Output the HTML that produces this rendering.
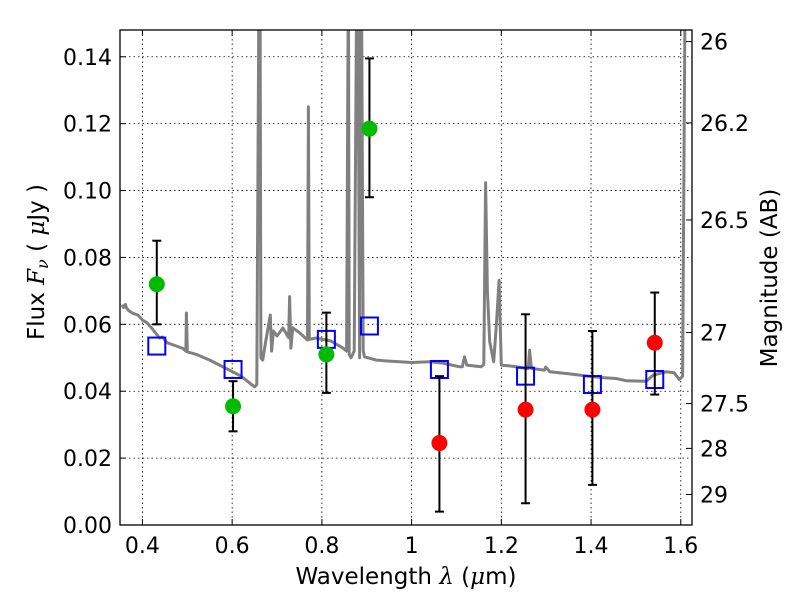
<!DOCTYPE html>
<html><head><meta charset="utf-8"><style>
body{margin:0;background:#fff;}
svg text{font-family:"DejaVu Sans","Liberation Sans",sans-serif;}
</style></head><body>
<svg id="chart" width="800" height="600" xmlns="http://www.w3.org/2000/svg"></svg>
<script>
const xTicks=[0.4,0.6,0.8,1.0,1.2,1.4,1.6];
const xTickLabels=["0.4","0.6","0.8","1","1.2","1.4","1.6"];
const yTicks=[0,0.02,0.04,0.06,0.08,0.10,0.12,0.14];
const yTickLabels=["0.00","0.02","0.04","0.06","0.08","0.10","0.12","0.14"];
const magTicks=[26,26.2,26.5,27,27.5,28,29];
const magTickLabels=["26","26.2","26.5","27","27.5","28","29"];
const specWave=[0.354,0.358,0.362,0.365,0.37,0.38,0.39,0.40,0.41,0.42,0.438,0.445,0.449,0.455,0.47,0.49,0.497,0.498,0.5,0.52,0.55,0.594,0.62,0.65,0.655,0.66,0.662,0.664,0.668,0.675,0.685,0.688,0.692,0.70,0.713,0.726,0.728,0.731,0.735,0.75,0.768,0.770,0.772,0.787,0.82,0.847,0.855,0.859,0.861,0.865,0.872,0.878,0.880,0.884,0.886,0.888,0.892,0.895,0.921,0.95,0.973,1.0,1.04,1.07,1.107,1.113,1.118,1.123,1.155,1.161,1.165,1.169,1.174,1.183,1.189,1.195,1.2,1.23,1.256,1.260,1.263,1.267,1.296,1.299,1.308,1.35,1.404,1.43,1.456,1.479,1.523,1.538,1.568,1.585,1.597,1.604,1.610,1.615,1.62,1.625];
const specFlux=[0.0658,0.0650,0.0660,0.0648,0.0640,0.0632,0.0628,0.0613,0.0605,0.0590,0.0559,0.0562,0.0555,0.0545,0.0538,0.0528,0.052,0.0634,0.0518,0.0510,0.0493,0.0463,0.0445,0.0413,0.042,0.17,0.17,0.05,0.0493,0.055,0.0628,0.052,0.058,0.0565,0.0589,0.056,0.0683,0.0529,0.059,0.0575,0.0553,0.125,0.0555,0.0559,0.055,0.0529,0.052,0.17,0.051,0.05,0.052,0.17,0.17,0.05,0.17,0.17,0.052,0.0503,0.0493,0.0490,0.0488,0.0486,0.0488,0.0484,0.0473,0.0473,0.0503,0.0478,0.0473,0.048,0.1023,0.07,0.0548,0.0488,0.06,0.0732,0.0478,0.0474,0.0468,0.0468,0.0523,0.0468,0.0463,0.0472,0.0458,0.0452,0.0443,0.0440,0.0438,0.0431,0.0430,0.0448,0.0458,0.0455,0.0435,0.0445,0.17,0.17,0.17,0.17];
const photWave=[0.432,0.602,0.81,0.906,1.062,1.254,1.403,1.542];
const photFlux=[0.072,0.0355,0.051,0.1185,0.0245,0.0345,0.0345,0.0545];
const photLo=[0.0600,0.0280,0.0395,0.0980,0.0040,0.0065,0.0120,0.0390];
const photHi=[0.0850,0.0430,0.0635,0.1395,0.0445,0.0630,0.0580,0.0695];
const photColor=["#00bb00","#00bb00","#00bb00","#00bb00","#ff0000","#ff0000","#ff0000","#ff0000"];
const modelFlux=[0.0535,0.0465,0.0555,0.0595,0.0465,0.0445,0.042,0.0435];

const L=120,R=692,T=30,B=525,xmin=0.35,xmax=1.625,ymin=0,ymax=0.148;
const sx=v=>L+(v-xmin)/(xmax-xmin)*(R-L);
const sy=v=>B-(v-ymin)/(ymax-ymin)*(B-T);
const magToFlux=m=>Math.pow(10,(23.9-m)/2.5);
const svg=document.getElementById('chart');
const NS='http://www.w3.org/2000/svg';
function mk(tag,attrs,parent){const e=document.createElementNS(NS,tag);for(const k in attrs)e.setAttribute(k,attrs[k]);(parent||svg).appendChild(e);return e;}

const defs=mk('defs',{});
const cp=mk('clipPath',{id:'clip'},defs);
mk('rect',{x:L,y:T,width:R-L,height:B-T},cp);

const grid=mk('g',{});


xTicks.forEach(v=>{mk('line',{x1:sx(v),x2:sx(v),y1:T,y2:B,stroke:'#000','stroke-width':0.8,'stroke-dasharray':'1.5,3'},grid);});
yTicks.forEach(v=>{mk('line',{x1:L,x2:R,y1:sy(v),y2:sy(v),stroke:'#000','stroke-width':0.8,'stroke-dasharray':'1.5,3'},grid);});

const g=mk('g',{'clip-path':'url(#clip)'});
let d='';
specWave.forEach((w,i)=>{d+=(i?'L':'M')+sx(w).toFixed(1)+','+sy(specFlux[i]).toFixed(1);});
const sp=mk('path',{d:d,fill:'none',stroke:'#808080','stroke-width':3,'stroke-linejoin':'round'},g);



photWave.forEach((w,i)=>{
  const s=mk('rect',{x:sx(w)-8.5,y:sy(modelFlux[i])-8.5,width:17,height:17,fill:'none',stroke:'#0000ff','stroke-width':2},g);
  
  
});
photWave.forEach((w,i)=>{
  const x=sx(w);
  const eb=mk('g',{},g);
  
  
  mk('line',{x1:x,x2:x,y1:sy(photLo[i]),y2:sy(photHi[i]),stroke:'#000','stroke-width':2},eb);
  mk('line',{x1:x-4.5,x2:x+4.5,y1:sy(photLo[i]),y2:sy(photLo[i]),stroke:'#000','stroke-width':2},eb);
  mk('line',{x1:x-4.5,x2:x+4.5,y1:sy(photHi[i]),y2:sy(photHi[i]),stroke:'#000','stroke-width':2},eb);
  const c=mk('circle',{cx:x,cy:sy(photFlux[i]),r:8,fill:photColor[i]},g);
  
  
});

const fr=mk('rect',{x:L,y:T,width:R-L,height:B-T,fill:'none',stroke:'#000','stroke-width':1.3});



xTicks.forEach((v,i)=>{
  const x=sx(v);
  mk('line',{x1:x,x2:x,y1:B,y2:B-6,stroke:'#000','stroke-width':1});
  mk('line',{x1:x,x2:x,y1:T,y2:T+6,stroke:'#000','stroke-width':1});
  const t=mk('text',{x:x,y:B+28,'text-anchor':'middle','font-size':22});
  t.textContent=xTickLabels[i];
  
  
});
yTicks.forEach((v,i)=>{
  const y=sy(v);
  mk('line',{x1:L,x2:L+6,y1:y,y2:y,stroke:'#000','stroke-width':1});
  const t=mk('text',{x:L-8,y:y+8,'text-anchor':'end','font-size':22});
  t.textContent=yTickLabels[i];
  
  
});
magTicks.forEach((m,i)=>{
  const y=sy(magToFlux(m));
  mk('line',{x1:R,x2:R-6,y1:y,y2:y,stroke:'#000','stroke-width':1});
  const t=mk('text',{x:R+8,y:y+8,'text-anchor':'start','font-size':22});
  t.textContent=magTickLabels[i];
  
  
});

const xl=mk('text',{x:406,y:584,'text-anchor':'middle','font-size':23});
xl.innerHTML='Wavelength  <tspan font-style="italic" font-family="DejaVu Serif, serif">λ</tspan> (<tspan font-style="italic" font-family="DejaVu Serif, serif">μ</tspan>m)';


const yl=mk('text',{x:0,y:0,'text-anchor':'middle','font-size':23,transform:'translate(44,262) rotate(-90)'});
yl.innerHTML='Flux  <tspan font-style="italic" font-family="DejaVu Serif, serif">F</tspan><tspan font-style="italic" font-family="DejaVu Serif, serif" font-size="16" dy="4">ν</tspan><tspan dy="-4">  ( </tspan><tspan font-style="italic" font-family="DejaVu Serif, serif">μ</tspan>Jy )';


const rl=mk('text',{x:0,y:0,'text-anchor':'middle','font-size':23,transform:'translate(777,278) rotate(-90)'});
rl.textContent='Magnitude (AB)';


</script>
</body></html>
